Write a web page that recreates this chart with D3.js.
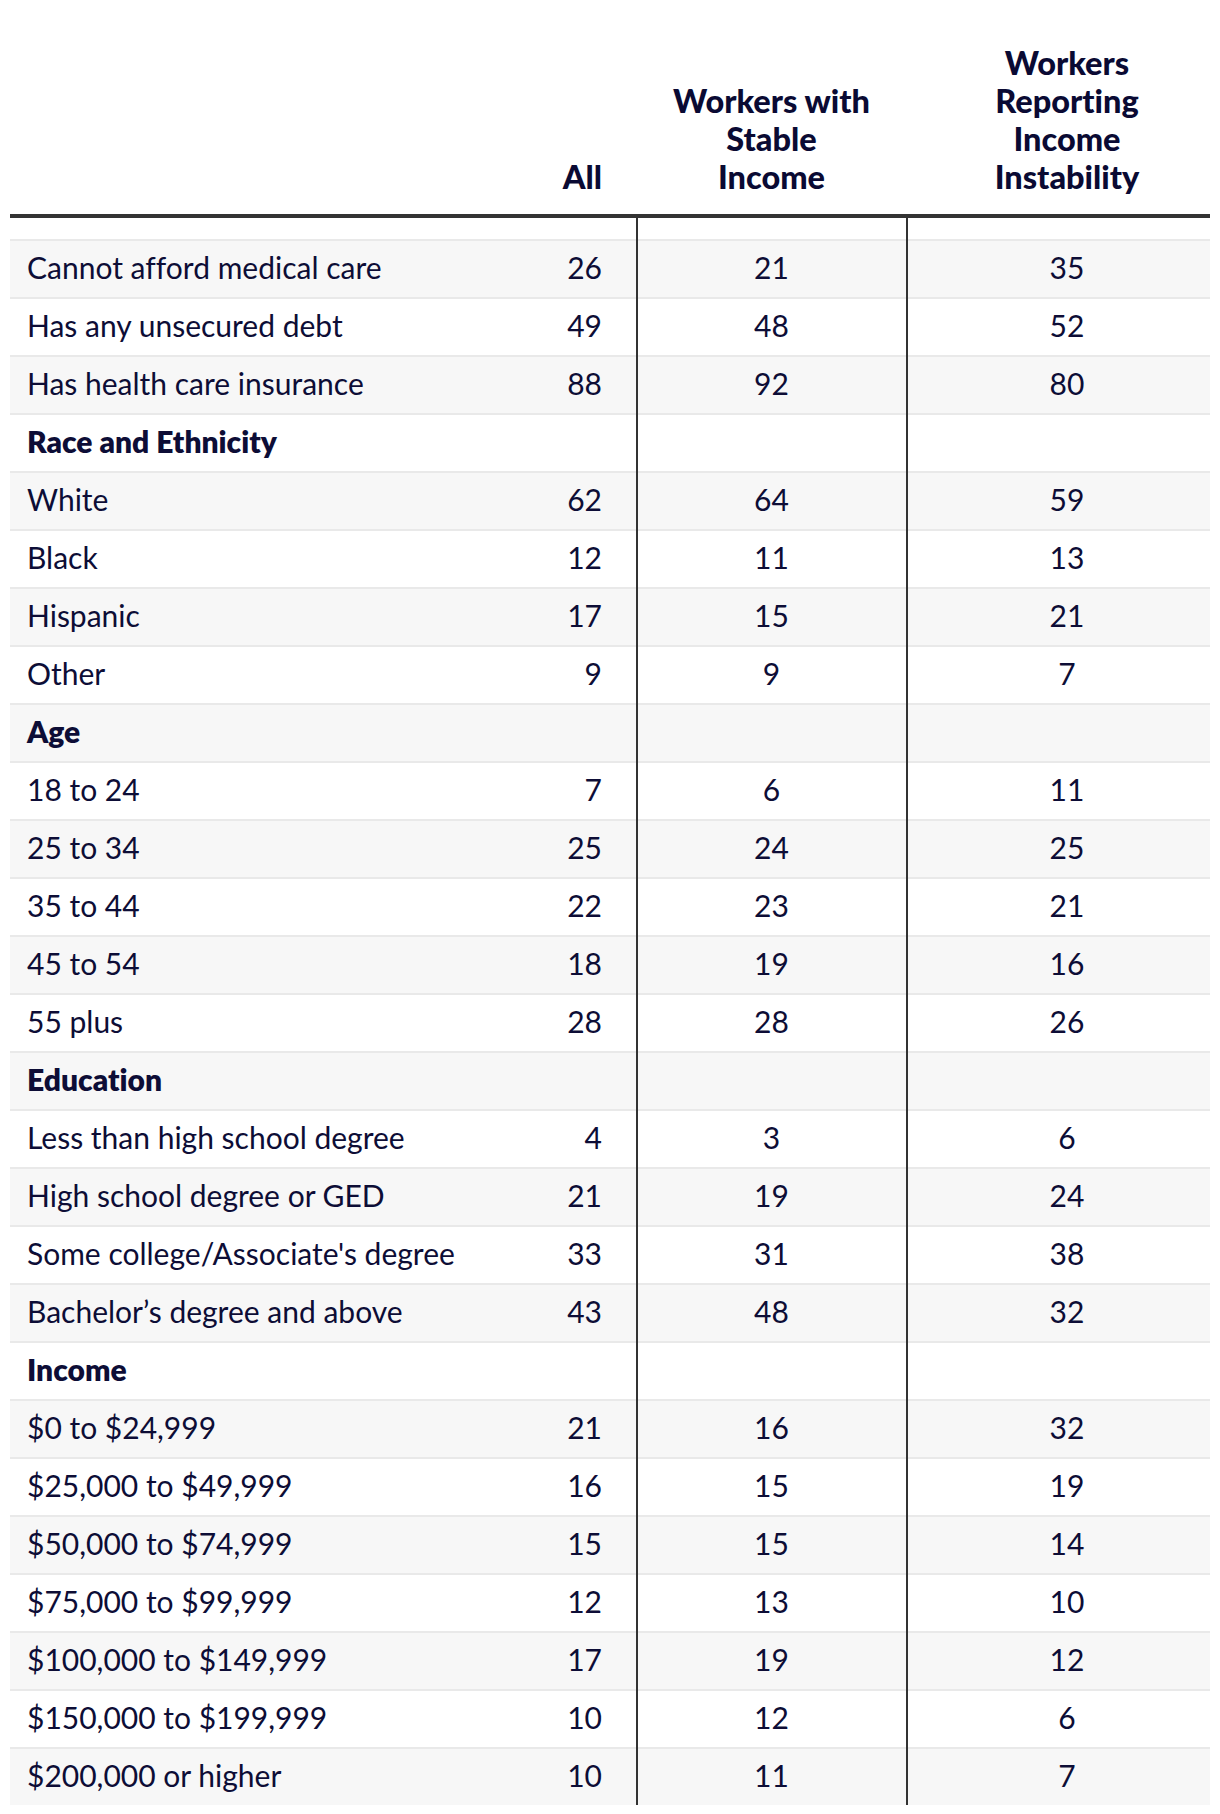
<!DOCTYPE html>
<html>
<head>
<meta charset="utf-8">
<script src="https://cdn.jsdelivr.net/npm/d3@7"></script>
<style>
  html, body { margin: 0; padding: 0; background: #ffffff; }
  svg { display: block; }
  text { font-family: Lato, "Noto Sans", sans-serif; font-variant-ligatures: none; font-feature-settings: "liga" 0, "clig" 0; }
</style>
</head>
<body>
<svg id="chart" width="1220" height="1814"></svg>
<script>
// ---- Data ----
const columnKeys = ["all", "stable", "instability"];
const columnHeaders = [
  ["All"],
  ["Workers with", "Stable", "Income"],
  ["Workers", "Reporting", "Income", "Instability"]
];
const rowLabels = [
  "Cannot afford medical care", "Has any unsecured debt", "Has health care insurance",
  "Race and Ethnicity", "White", "Black", "Hispanic", "Other",
  "Age", "18 to 24", "25 to 34", "35 to 44", "45 to 54", "55 plus",
  "Education", "Less than high school degree", "High school degree or GED",
  "Some college/Associate's degree", "Bachelor\u2019s degree and above",
  "Income", "$0 to $24,999", "$25,000 to $49,999", "$50,000 to $74,999",
  "$75,000 to $99,999", "$100,000 to $149,999", "$150,000 to $199,999", "$200,000 or higher"
];
const isSection = [
  false, false, false,
  true, false, false, false, false,
  true, false, false, false, false, false,
  true, false, false, false, false,
  true, false, false, false, false, false, false, false
];
const allValues = [26, 49, 88, null, 62, 12, 17, 9, null, 7, 25, 22, 18, 28, null, 4, 21, 33, 43, null, 21, 16, 15, 12, 17, 10, 10];
const stableValues = [21, 48, 92, null, 64, 11, 15, 9, null, 6, 24, 23, 19, 28, null, 3, 19, 31, 48, null, 16, 15, 15, 13, 19, 12, 11];
const instabilityValues = [35, 52, 80, null, 59, 13, 21, 7, null, 11, 25, 21, 16, 26, null, 6, 24, 38, 32, null, 32, 19, 14, 10, 12, 6, 7];

// ---- Layout ----
const svg = d3.select("#chart");
const tableLeft = 10, tableRight = 1210;
const headRuleY = 216;
const bodyTop = 239, rowH = 58;
const textColor = "#0d0d36";

const rows = rowLabels.map((label, i) => ({
  i, label, section: isSection[i],
  all: allValues[i], stable: stableValues[i], instability: instabilityValues[i]
}));

const y = d3.scaleBand()
  .domain(rows.map(d => d.i))
  .range([bodyTop, bodyTop + rowH * rows.length])
  .paddingInner(0).paddingOuter(0);

// column anchor positions
const colX = d3.scaleOrdinal().domain(columnKeys).range([602, 771.5, 1067]);
const colAnchor = d3.scaleOrdinal().domain(columnKeys).range(["end", "middle", "middle"]);
const dividers = [637, 907];

// row backgrounds
svg.append("g").selectAll("rect.bg")
  .data(rows).join("rect")
  .attr("x", tableLeft)
  .attr("y", d => y(d.i) + 2)
  .attr("width", tableRight - tableLeft)
  .attr("height", y.bandwidth() - 2)
  .attr("fill", d => d.i % 2 === 0 ? "#f7f7f7" : "#ffffff");

// row separators
svg.append("g").selectAll("rect.sep")
  .data(rows).join("rect")
  .attr("x", tableLeft)
  .attr("y", d => y(d.i))
  .attr("width", tableRight - tableLeft)
  .attr("height", 2)
  .attr("fill", "#e9e9e9");

// vertical dividers
const bodyBottom = y.range()[1];
svg.append("g").selectAll("line")
  .data(dividers).join("line")
  .attr("x1", d => d).attr("x2", d => d)
  .attr("y1", headRuleY).attr("y2", bodyBottom)
  .attr("stroke", "#333333").attr("stroke-width", 2);

// header rule
svg.append("line")
  .attr("x1", tableLeft).attr("x2", tableRight)
  .attr("y1", headRuleY).attr("y2", headRuleY)
  .attr("stroke", "#333333").attr("stroke-width", 4);

// headers
const headerLineH = 38, headerBaseline = 189;
const hg = svg.append("g");
columnKeys.forEach((k, ci) => {
  const lines = columnHeaders[ci];
  const t = hg.append("text")
    .attr("x", colX(k))
    .attr("text-anchor", colAnchor(k))
    .attr("font-size", 32.5)
    .attr("font-weight", 900)
    .attr("fill", "#0a0a33");
  lines.forEach((ln, li) => {
    t.append("tspan")
      .attr("x", colX(k))
      .attr("y", headerBaseline - (lines.length - 1 - li) * headerLineH)
      .text(ln);
  });
});

// row labels
svg.append("g").selectAll("text")
  .data(rows).join("text")
  .attr("x", 27)
  .attr("y", d => y(d.i) + 40)
  .attr("font-size", 30)
  .attr("font-weight", d => d.section ? 800 : 400)
  .attr("fill", textColor)
  .text(d => d.label);

// values
columnKeys.forEach(k => {
  svg.append("g").selectAll("text")
    .data(rows.filter(d => d[k] !== null)).join("text")
    .attr("x", colX(k))
    .attr("y", d => y(d.i) + 40)
    .attr("text-anchor", colAnchor(k))
    .attr("font-size", 30)
    .attr("fill", textColor)
    .text(d => d[k]);
});
</script>
</body>
</html>
